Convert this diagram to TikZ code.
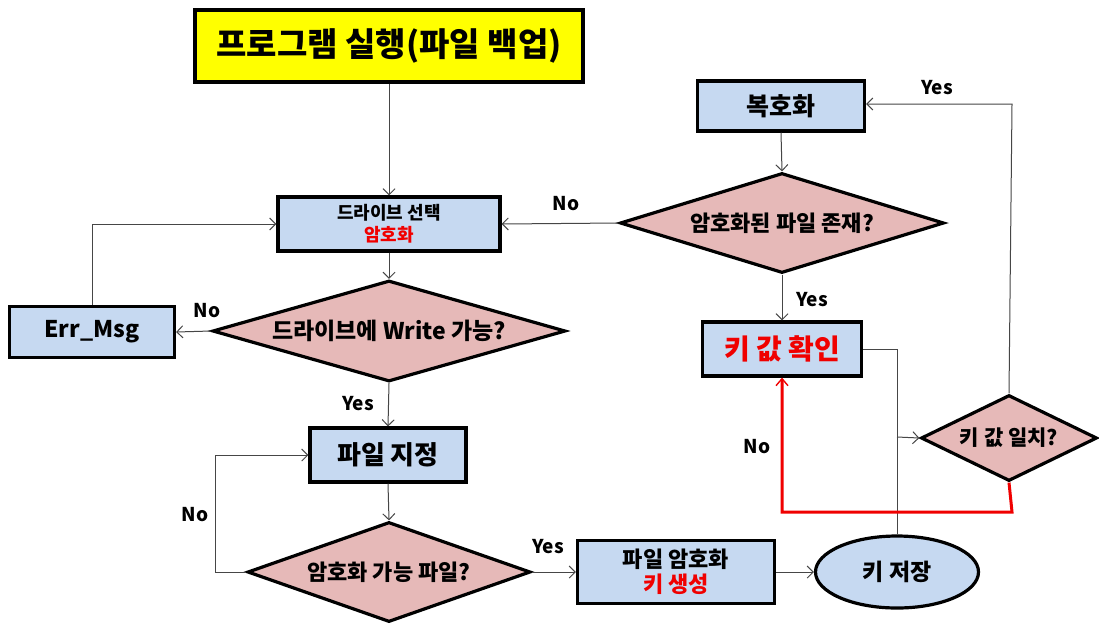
\documentclass[tikz,border=0pt]{standalone}
\usepackage{fontspec}
\setmainfont{Noto Sans CJK KR}
\usetikzlibrary{shapes.geometric,arrows.meta}
\definecolor{boxblue}{RGB}{198,217,241}
\definecolor{dpink}{RGB}{230,185,184}
\definecolor{ttl}{RGB}{255,255,0}
\definecolor{lnc}{RGB}{70,70,70}
\definecolor{redc}{RGB}{240,0,0}
\tikzset{
  procbox/.style={draw=black, line width=3.2pt, fill=boxblue, inner sep=0pt, align=center, font=\bfseries},
  decide/.style={draw=black, line width=3.2pt, fill=dpink, diamond, inner sep=0pt, align=center, font=\bfseries},
  conn/.style={draw=lnc, line width=1pt, -{Straight Barb[length=6pt,width=12pt]}},
  plain/.style={draw=lnc, line width=1pt},
  redconn/.style={draw=redc, line width=3pt, -{Straight Barb[length=7pt,width=12pt,line width=1.4pt]}},
  lbl/.style={font=\bfseries\fontsize{19}{22}\selectfont, inner sep=0pt}
}
\begin{document}
\begin{tikzpicture}[x=1pt,y=-1pt]
\path[use as bounding box, fill=white] (0,0) rectangle (1099,625);

% nodes
\node[procbox, fill=ttl, minimum width=388pt, minimum height=72pt, font=\bfseries\fontsize{33}{38}\selectfont] (start) at (389,46) {프로그램 실행(파일 백업)};
\node[procbox, minimum width=222pt, minimum height=54pt, font=\bfseries\fontsize{18}{22}\selectfont] (drive) at (389,224) {드라이브 선택\\\textcolor{redc}{암호화}};
\node[decide, minimum width=353pt, minimum height=101pt, shape aspect=3.5, font=\bfseries\fontsize{23}{26}\selectfont] (write) at (389,331) {드라이브에 Write 가능?};
\node[procbox, minimum width=165pt, minimum height=51pt, font=\bfseries\fontsize{23}{26}\selectfont] (err) at (92,332) {Err\_Msg};
\node[procbox, minimum width=156pt, minimum height=54pt, font=\bfseries\fontsize{26}{30}\selectfont] (file) at (388,455) {파일 지정};
\node[decide, minimum width=283pt, minimum height=100pt, shape aspect=2.83, font=\bfseries\fontsize{22}{26}\selectfont] (canenc) at (389,572) {암호화 가능 파일?};
\node[procbox, minimum width=197pt, minimum height=63pt, font=\bfseries\fontsize{22}{25}\selectfont] (enc) at (676,572) {파일 암호화\\\textcolor{redc}{키 생성}};
\node[draw=black, line width=3.2pt, fill=boxblue, ellipse, minimum width=163pt, minimum height=72pt, inner sep=0pt, font=\bfseries\fontsize{23}{26}\selectfont] (save) at (897,572) {키 저장};
\node[procbox, minimum width=159pt, minimum height=54pt, font=\bfseries\fontsize{28}{32}\selectfont] (check) at (782,349) {\textcolor{redc}{키 값 확인}};
\node[decide, minimum width=176pt, minimum height=86pt, shape aspect=2.05, font=\bfseries\fontsize{21}{24}\selectfont] (match) at (1009,438) {키 값 일치?};
\node[procbox, minimum width=167pt, minimum height=50pt, font=\bfseries\fontsize{25}{28}\selectfont] (dec) at (781,106) {복호화};
\node[decide, minimum width=324pt, minimum height=100pt, shape aspect=3.24, font=\bfseries\fontsize{22}{26}\selectfont] (exist) at (782,223) {암호화된 파일 존재?};

% connectors
\draw[conn] (start.south) -- (drive.north);
\draw[conn] (drive.south) -- (write.north);
\draw[conn] (write.west) -- (err.east);
\draw[conn] (err.north) |- (drive.west);
\draw[conn] (write.south) -- (file.north);
\draw[conn] (file.south) -- (canenc.north);
\coordinate (noleft) at (215,572);
\draw[conn] (canenc.west) -- (noleft) |- (file.west);
\draw[conn] (canenc.east) -- (enc.west);
\draw[conn] (enc.east) -- (save.west);
\coordinate (jn) at (897,349);
\draw[plain] (save.north) -- (jn) -- (check.east);
\coordinate (jm) at (897,437);
\draw[conn] (jm) -- (match.west);
\coordinate (redc1) at (1012,512);
\draw[redconn] (match.south) -- (redc1) -| (check.south);
\coordinate (yesup) at (1012,104);
\draw[conn] (match.north) -- (yesup) -- (dec.east |- yesup);
\draw[conn] (dec.south) -- (exist.north);
\draw[conn] (exist.west) -- (drive.east);
\draw[conn] (exist.south) -- (check.north);

% labels
\node[lbl] (l1) at (207,311) {No};
\node[lbl] (l2) at (358,404) {Yes};
\node[lbl] (l3) at (195,515) {No};
\node[lbl] (l4) at (548,547) {Yes};
\node[lbl] (l5) at (566,204) {No};
\node[lbl] (l6) at (812,300) {Yes};
\node[lbl] (l7) at (937,88) {Yes};
\node[lbl] (l8) at (757,447) {No};
\end{tikzpicture}
\end{document}
